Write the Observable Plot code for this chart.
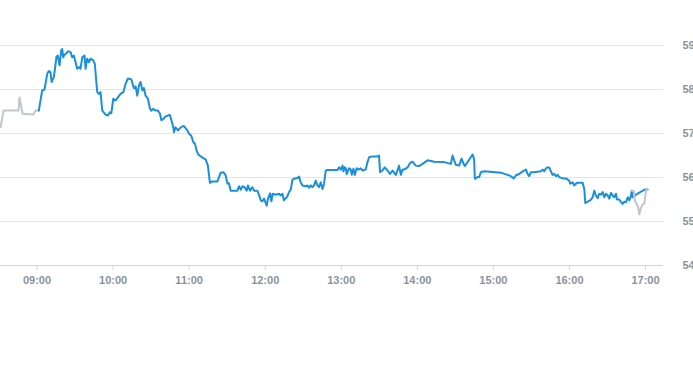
<!DOCTYPE html>
<html>
<head>
<meta charset="utf-8">
<script src="https://cdn.jsdelivr.net/npm/d3@7"></script>
<script src="https://cdn.jsdelivr.net/npm/@observablehq/plot@0.6"></script>
<style>
  html, body { margin: 0; padding: 0; background: #fff; }
  #chart { width: 693px; height: 365px; overflow: hidden; }
</style>
</head>
<body>
<div id="chart"></div>
<script>
// Minutes after 09:00 and price, pre-market (grey)
const preMinutes = [-28.8, -26.4, -14.6, -13.8, -11.4, -2.8, -1.2, 1.4];
const prePrice   = [57.14, 57.52, 57.52, 57.82, 57.45, 57.43, 57.52, 57.52];

// Regular session (blue)
const mainMinutes = [
  1.4, 4.1, 5.9, 8.1, 9.3, 10.7, 11.5, 13.3, 15.4, 16.4, 17.8, 19.1, 19.9, 20.7, 21.2, 23.3, 24.6, 26.5, 27.8, 29.1,
  30.4, 31.7, 33.0, 34.3, 35.7, 37.5, 38.3, 39.6, 40.9, 42.2, 44.4, 45.6, 47.5, 48.8, 50.1, 51.5, 54.1, 55.9, 57.5, 58.6,
  60.2, 62.0, 63.8, 65.9, 68.1, 69.9, 71.7, 74.4, 76.4, 77.8, 79.1, 80.4, 81.7, 83.1, 84.3, 85.7, 87.5, 89.1, 90.2, 91.7,
  93.6, 95.4, 97.0, 98.1, 99.6, 101.5, 103.3, 104.8, 106.0, 107.5, 108.0, 109.3, 111.2, 112.7, 114.6, 115.9, 117.2, 118.6, 119.8, 121.7,
  123.3, 124.6, 125.9, 127.3, 129.1, 131.2, 133.0, 134.8, 136.4, 138.3, 142.3, 144.9, 147.0, 148.8, 150.2, 151.4, 152.8, 158.1, 159.3, 160.7,
  162.0, 163.8, 165.4, 166.4, 168.0, 169.9, 171.2, 173.8, 175.1, 176.5, 177.8, 179.1, 180.4, 181.2, 182.2, 183.8, 184.9, 185.9, 188.3, 190.9,
  192.2, 193.6, 194.8, 197.5, 198.8, 200.1, 201.5, 202.7, 205.4, 206.7, 208.0, 209.4, 212.0, 213.3, 214.6, 215.9, 217.3, 218.5, 219.9, 221.2,
  222.5, 223.8, 225.2, 226.4, 227.8, 229.1, 237.0, 238.3, 239.6, 241.0, 241.7, 242.8, 243.6, 244.3, 246.2, 247.5, 248.3, 249.6, 250.7, 252.2,
  254.1, 255.4, 256.7, 259.3, 260.7, 262.0, 264.6, 268.6, 269.8, 270.6, 272.5, 274.3, 276.5, 278.5, 280.4, 283.0, 284.4, 285.6, 287.0, 288.3,
  289.6, 292.3, 294.3, 296.2, 298.8, 301.4, 304.1, 308.1, 313.3, 321.2, 326.5, 327.8, 329.1, 330.4, 333.0, 334.9, 336.5, 337.5, 339.6, 342.2,
  343.6, 344.8, 345.4, 347.5, 348.8, 350.1, 352.7, 365.9, 371.2, 373.8, 376.0, 377.8, 380.4, 383.1, 385.7, 387.0, 388.3, 389.6, 392.2, 397.5,
  398.8, 400.1, 401.5, 402.8, 404.1, 404.8, 406.7, 408.0, 409.3, 410.7, 412.0, 414.6, 417.2, 419.8, 420.6, 422.5, 423.8, 425.9, 430.4, 431.7,
  432.5, 434.4, 436.4, 438.3, 439.6, 440.9, 442.3, 443.5, 444.9, 446.2, 447.5, 448.8, 450.2, 451.4, 452.8, 454.1, 455.4, 456.7, 457.5, 459.3,
  460.7, 462.0, 463.3, 464.6, 466.0, 467.2, 468.6, 469.1, 469.9, 472.5, 476.5, 479.8, 481.7
];
const mainPrice = [
  57.52, 57.98, 58.00, 58.36, 58.42, 58.39, 58.17, 58.28, 58.75, 58.77, 58.55, 58.89, 58.92, 58.73, 58.77, 58.83, 58.87, 58.85, 58.73, 58.77,
  58.62, 58.47, 58.51, 58.47, 58.73, 58.77, 58.47, 58.70, 58.62, 58.70, 58.66, 58.58, 57.94, 57.90, 57.94, 57.52, 57.43, 57.41, 57.48, 57.46,
  57.79, 57.75, 57.82, 57.90, 57.94, 58.13, 58.25, 58.23, 58.03, 58.07, 57.86, 58.09, 58.17, 57.98, 58.03, 57.86, 57.79, 57.57, 57.52, 57.56,
  57.52, 57.52, 57.45, 57.30, 57.33, 57.39, 57.41, 57.42, 57.30, 57.14, 57.03, 57.14, 57.07, 57.12, 57.16, 57.17, 57.12, 57.07, 57.00, 56.95,
  56.80, 56.77, 56.61, 56.52, 56.48, 56.44, 56.41, 56.27, 55.88, 55.91, 55.91, 56.11, 56.12, 56.05, 55.86, 55.87, 55.70, 55.70, 55.80, 55.72,
  55.80, 55.78, 55.70, 55.82, 55.70, 55.78, 55.70, 55.70, 55.61, 55.48, 55.46, 55.52, 55.42, 55.36, 55.52, 55.64, 55.46, 55.63, 55.61, 55.63,
  55.59, 55.63, 55.48, 55.57, 55.67, 55.72, 55.95, 55.97, 55.99, 56.02, 55.89, 55.82, 55.80, 55.82, 55.77, 55.82, 55.78, 55.82, 55.93, 55.82,
  55.78, 55.89, 55.74, 55.86, 56.16, 56.17, 56.17, 56.23, 56.18, 56.27, 56.14, 56.23, 56.21, 56.08, 56.21, 56.18, 56.06, 56.20, 56.06, 56.21,
  56.18, 56.21, 56.16, 56.18, 56.35, 56.46, 56.48, 56.48, 56.50, 56.12, 56.16, 56.23, 56.16, 56.08, 56.16, 56.06, 56.16, 56.27, 56.06, 56.18,
  56.18, 56.23, 56.33, 56.36, 56.27, 56.26, 56.31, 56.39, 56.36, 56.35, 56.31, 56.50, 56.39, 56.29, 56.27, 56.43, 56.31, 56.26, 56.35, 56.46,
  56.52, 56.42, 55.97, 56.01, 56.01, 56.12, 56.14, 56.11, 56.06, 56.03, 55.98, 56.05, 56.08, 56.14, 56.18, 56.08, 56.03, 56.12, 56.12, 56.14,
  56.18, 56.14, 56.21, 56.23, 56.23, 56.18, 56.06, 56.08, 56.03, 56.06, 56.01, 55.98, 55.98, 55.93, 55.86, 55.89, 55.82, 55.88, 55.88, 55.74,
  55.42, 55.45, 55.48, 55.55, 55.70, 55.59, 55.53, 55.63, 55.61, 55.67, 55.55, 55.63, 55.59, 55.52, 55.65, 55.59, 55.55, 55.63, 55.50, 55.50,
  55.44, 55.40, 55.45, 55.44, 55.55, 55.48, 55.59, 55.70, 55.55, 55.61, 55.68, 55.73, 55.73
];

// Post-market (grey)
const postMinutes = [469.1, 470.7, 471.7, 473.3, 474.3, 475.1, 476.4, 477.8, 479.0, 480.4, 481.2];
const postPrice   = [55.70, 55.70, 55.46, 55.39, 55.31, 55.16, 55.31, 55.39, 55.40, 55.70, 55.74];

const yTicks = [54, 55, 56, 57, 58, 59];
const xTickLabels = ["09:00", "10:00", "11:00", "12:00", "13:00", "14:00", "15:00", "16:00", "17:00"];

const base = Date.UTC(2024, 0, 2, 9, 0);
const toDate = m => new Date(base + m * 60000);
const rows = (ms, ps) => ms.map((m, i) => ({t: toDate(m), p: ps[i]}));
const pre = rows(preMinutes, prePrice);
const main = rows(mainMinutes, mainPrice);
const post = rows(postMinutes, postPrice);
const parseHM = s => { const [h, m] = s.split(":").map(Number); return toDate((h - 9) * 60 + m); };
const xTicks = xTickLabels.map(parseHM);

const labelColor = "#8a939c";
const plot = Plot.plot({
  width: 693,
  height: 365,
  marginLeft: 0,
  marginRight: 30,
  marginTop: 45,
  marginBottom: 100,
  style: {fontFamily: "'Liberation Sans', Arial, sans-serif", fontSize: "11px", background: "#fff"},
  x: {type: "utc", domain: [toDate(-28.8), toDate(494.2)]},
  y: {domain: [54, 59]},
  marks: [
    Plot.ruleY(yTicks.filter(d => d > 54), {stroke: "#e6e6e6", strokeWidth: 1}),
    Plot.ruleY([54], {stroke: "#ccd6eb", strokeWidth: 1}),
    Plot.axisX({ticks: xTicks, tickFormat: d3.utcFormat("%H:%M"), tickSize: 5, tickPadding: 6,
      stroke: "#ccd6eb", fill: labelColor, fontWeight: "bold", fontSize: 11, label: null}),
    Plot.axisY({ticks: yTicks, anchor: "right", tickSize: 0, tickPadding: 19, textAnchor: "start",
      fill: labelColor, fontWeight: "bold", fontSize: 11, label: null}),
    Plot.line(pre, {x: "t", y: "p", stroke: "#bfc7cd", strokeWidth: 2}),
    Plot.line(main, {x: "t", y: "p", stroke: "#1a8fdb", strokeWidth: 2, strokeLinejoin: "round"}),
    Plot.line(post, {x: "t", y: "p", stroke: "#bfc7cd", strokeWidth: 2})
  ]
});
document.getElementById("chart").appendChild(plot);
</script>
</body>
</html>
